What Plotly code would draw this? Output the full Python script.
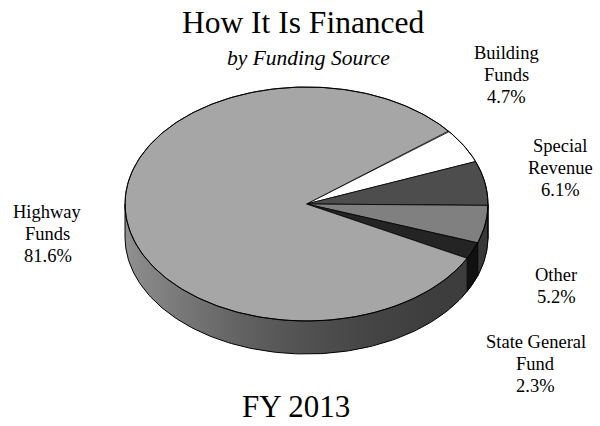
import numpy as np
import plotly.graph_objects as go

# Funding sources, in clockwise order starting at the upper-right edge of the pie
labels = ["Building Funds", "Special Revenue", "Other", "State General Fund", "Highway Funds"]
shares = [4.7, 6.1, 5.2, 2.3, 81.6]          # percent
label_lines = [["Building", "Funds"], ["Special", "Revenue"], ["Other"],
               ["State General", "Fund"], ["Highway", "Funds"]]
top_colors = ["#ffffff", "#4d4d4d", "#808080", "#242424", "#a6a6a6"]
side_colors = ["#dddddd", "#353535", "#383838", "#111111", None]  # None -> shaded rim
label_pos = [(506.5, 75), (560, 167.5), (556, 286), (535.5, 364), (47.5, 234)]

START_DEG = 38.2
CX, CY, RX, RY, DEPTH = 306.5, 204.0, 181.5, 117.0, 33.0
FONT = "Times New Roman, Liberation Serif, serif"
LABEL_SIZE = 18.5
LINE_GAP = 22


def pt(deg, drop=0.0):
    r = np.radians(deg)
    return CX + RX * np.cos(r), CY - RY * np.sin(r) + drop


def arc(a0, a1, drop=0.0, step=1.0):
    n = max(2, int(abs(a1 - a0) / step) + 2)
    t = np.linspace(a0, a1, n)
    xs, ys = pt(t, drop)
    return list(xs), list(ys)


def rim_shade(deg):
    f = ((1 - np.cos(np.radians(deg))) / 2) ** 2
    v = int(round(0x3c + f * (0x90 - 0x3c)))
    return f"rgb({v},{v},{v})"


# slice angles (degrees, decreasing = clockwise)
ends = START_DEG - np.cumsum(shares) * 3.6
starts = np.concatenate([[START_DEG], ends[:-1]])

fig = go.Figure()
line_x, line_y = [], []

# rim (front half of the cylinder)
for i, (a_s, a_e) in enumerate(zip(starts, ends)):
    for k in (0, 1):
        lo, hi = max(a_e, -180 - 360 * k), min(a_s, -360 * k)
        if hi <= lo:
            continue
        tx, ty = arc(hi, lo)
        bx, by = arc(lo, hi, DEPTH)
        trace = dict(x=tx + bx, y=ty + by, fill="toself", mode="lines",
                     hoverinfo="skip", showlegend=False)
        if side_colors[i] is None:
            # horizontal light-to-dark shading across the rim
            x_left, x_right = pt(lo)[0], pt(hi)[0]
            stops = np.linspace(lo, hi, 24)
            scale = []
            for a in stops:
                frac = (pt(a)[0] - x_left) / (x_right - x_left)
                scale.append([float(np.clip(frac, 0, 1)), rim_shade(a)])
            scale[0][0], scale[-1][0] = 0.0, 1.0
            trace.update(fillgradient=dict(type="horizontal", colorscale=scale),
                         line=dict(width=0))
        else:
            trace.update(fillcolor=side_colors[i], line=dict(color=side_colors[i], width=0.5))
        fig.add_trace(go.Scatter(**trace))

# top faces
for i, (a_s, a_e) in enumerate(zip(starts, ends)):
    ax, ay = arc(a_s, a_e)
    fig.add_trace(go.Scatter(x=[CX] + ax + [CX], y=[CY] + ay + [CY], fill="toself", mode="lines",
                             fillcolor=top_colors[i], line=dict(color="#000000", width=0.8),
                             hoverinfo="skip", showlegend=False, name=labels[i]))

# outlines: rim bottom, side edges and visible slice seams
bx, by = arc(-180, 0, DEPTH)
line_x += bx + [None]
line_y += by + [None]
for a in list(ends) + [-180.0, 0.0]:
    a_n = ((a + 180) % 360) - 180
    if -180 <= a_n <= 0:
        x0, y0 = pt(a_n)
        x1, y1 = pt(a_n, DEPTH)
        line_x += [x0, x1, None]
        line_y += [y0, y1, None]
tx, ty = arc(0, 360)
line_x += tx
line_y += ty
fig.add_trace(go.Scatter(x=line_x, y=line_y, mode="lines", line=dict(color="#000000", width=1),
                         hoverinfo="skip", showlegend=False))

annotations = []
for lines, share, (lx, ly) in zip(label_lines, shares, label_pos):
    rows = lines + [f"{share:.1f}%"]
    for j, row in enumerate(rows):
        annotations.append(dict(x=lx, y=ly + (j - (len(rows) - 1) / 2) * LINE_GAP,
                                xref="x", yref="y", showarrow=False, text=row,
                                font=dict(family=FONT, size=LABEL_SIZE, color="#000000"),
                                xanchor="center", yanchor="middle", borderpad=0))

annotations += [
    dict(x=303.5, y=22, xref="x", yref="y", showarrow=False, text="How It Is Financed",
         font=dict(family=FONT, size=31.5, color="#000000"), xanchor="center", yanchor="middle",
         borderpad=0),
    dict(x=308, y=58, xref="x", yref="y", showarrow=False, text="<i>by Funding Source</i>",
         font=dict(family=FONT, size=21.5, color="#000000"), xanchor="center", yanchor="middle",
         borderpad=0),
    dict(x=296, y=406, xref="x", yref="y", showarrow=False, text="FY 2013",
         font=dict(family=FONT, size=31, color="#000000"), xanchor="center", yanchor="middle",
         borderpad=0),
]

fig.update_layout(
    width=600, height=426, margin=dict(l=0, r=0, t=0, b=0),
    paper_bgcolor="#ffffff", plot_bgcolor="#ffffff",
    xaxis=dict(range=[0, 600], visible=False, fixedrange=True),
    yaxis=dict(range=[426, 0], visible=False, fixedrange=True),
    annotations=annotations, showlegend=False,
)

fig.write_html("out.html", config={"displayModeBar": False})
